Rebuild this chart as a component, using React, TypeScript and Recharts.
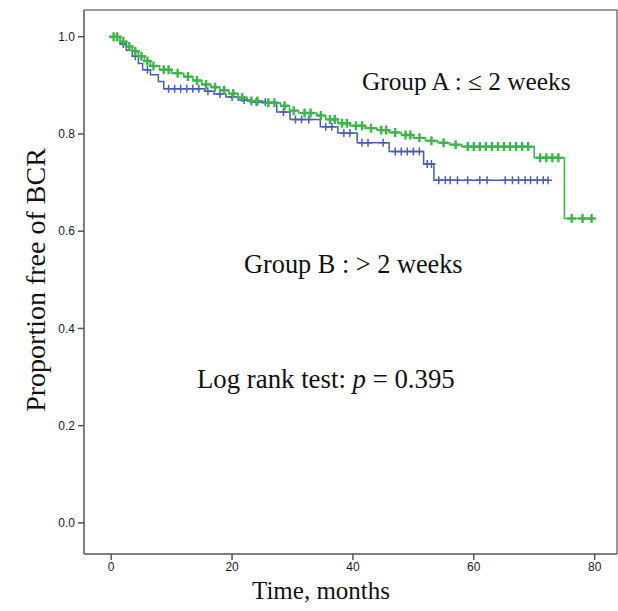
import React from 'react';
import {
  ComposedChart,
  Line,
  Scatter,
  XAxis,
  YAxis,
  ReferenceLine,
} from 'recharts';

// Kaplan-Meier steps: [months, proportion free of BCR]
const groupASteps: [number, number][] = [
  [0, 1.0], [1.5, 0.99], [2.5, 0.98], [3.5, 0.97], [4.5, 0.96], [5.5, 0.95],
  [6.5, 0.94], [8, 0.932], [10, 0.925], [12, 0.918], [13.5, 0.91], [15, 0.902],
  [16.5, 0.896], [18, 0.89], [19.5, 0.883], [21, 0.875], [22.5, 0.868], [25, 0.864],
  [28, 0.858], [29.5, 0.848], [31, 0.843], [34, 0.838], [35.5, 0.83], [37.5, 0.822],
  [39.5, 0.817], [42, 0.812], [44, 0.808], [46, 0.803], [48, 0.798], [50, 0.792],
  [52, 0.786], [54, 0.782], [56, 0.778], [58, 0.774], [70, 0.751], [75, 0.626],
  [79.5, 0.626],
];

const groupACensored: [number, number][] = [
  [0.4, 1.0], [1.0, 1.0], [2, 0.99], [3, 0.98], [4, 0.97], [5, 0.96], [6, 0.95],
  [7, 0.94], [8.7, 0.932], [9.5, 0.932], [11, 0.925], [12.7, 0.918], [14.2, 0.91],
  [15.7, 0.902], [17.2, 0.896], [18.7, 0.89], [20.2, 0.883], [21.7, 0.875],
  [23.2, 0.868], [24.2, 0.868], [26, 0.864], [27, 0.864], [28.7, 0.858], [30.2, 0.848],
  [32, 0.843], [33, 0.843], [34.7, 0.838], [36.2, 0.83], [37, 0.83], [38.2, 0.822],
  [39, 0.822], [40.5, 0.817], [41.5, 0.817], [43, 0.812], [44.7, 0.808], [45.5, 0.808],
  [47, 0.803], [48.7, 0.798], [49.5, 0.798], [51, 0.792], [53, 0.786], [55, 0.782],
  [57, 0.778], [59, 0.774], [60, 0.774], [61, 0.774], [62, 0.774], [63, 0.774],
  [64, 0.774], [65, 0.774], [66, 0.774], [67, 0.774], [68, 0.774], [69, 0.774],
  [71, 0.751], [72, 0.751], [73, 0.751], [74, 0.751], [76.2, 0.626], [78, 0.626],
  [79.5, 0.626],
];

const groupBSteps: [number, number][] = [
  [0, 1.0], [1.5, 0.985], [2.5, 0.972], [3.5, 0.96], [4.5, 0.945], [5.2, 0.932],
  [6.5, 0.922], [7.8, 0.908], [8.7, 0.893], [15.5, 0.888], [17, 0.882], [19, 0.876],
  [21, 0.87], [23, 0.865], [27.4, 0.845], [29.6, 0.83], [34.6, 0.815], [37.5, 0.802],
  [40.7, 0.782], [46, 0.764], [51.7, 0.738], [53.4, 0.705], [72.3, 0.705],
];

const groupBCensored: [number, number][] = [
  [2, 0.985], [4, 0.96], [6, 0.932], [9.5, 0.893], [10.5, 0.893], [11.5, 0.893],
  [12.5, 0.893], [13.5, 0.893], [14.5, 0.893], [16, 0.888], [18, 0.882], [20, 0.876],
  [22, 0.87], [24, 0.865], [25.5, 0.865], [28.5, 0.845], [30.5, 0.83], [31.5, 0.83],
  [32.7, 0.83], [35.5, 0.815], [36.5, 0.815], [38.5, 0.802], [39.5, 0.802], [41.5, 0.782],
  [42.5, 0.782], [45, 0.782], [47, 0.764], [48, 0.764], [49, 0.764], [50, 0.764],
  [51, 0.764], [52.3, 0.738], [53, 0.738], [54.2, 0.705], [55.3, 0.705], [56.1, 0.705],
  [57.3, 0.705], [59, 0.705], [61, 0.705], [62.2, 0.705], [65.2, 0.705], [66.4, 0.705],
  [67.4, 0.705], [68.5, 0.705], [69.4, 0.705], [70.5, 0.705], [71.5, 0.705], [72.3, 0.705],
];

const xTicks = [0, 20, 40, 60, 80];
const yTicks = [0, 0.2, 0.4, 0.6, 0.8, 1.0];

const GREEN = '#3db54a';
const BLUE = '#4b5cb8';

const toRows = (pts: [number, number][]) => pts.map(([t, s]) => ({ t, s }));

const makePlus = (color: string, size: number, width: number) => (props: any) => {
  const { cx, cy } = props;
  if (cx == null || cy == null) return null;
  return (
    <path
      d={`M${cx - size},${cy}H${cx + size}M${cx},${cy - size}V${cy + size}`}
      stroke={color}
      strokeWidth={width}
      fill="none"
    />
  );
};

const serif = '"Liberation Serif", "Times New Roman", serif';

const overlay = (left: number, top: number, size: number): React.CSSProperties => ({
  position: 'absolute',
  left,
  top,
  fontFamily: serif,
  fontSize: size,
  lineHeight: 1,
  whiteSpace: 'nowrap',
  color: '#111',
});

export default function App() {
  const tickStyle = { fontFamily: 'Liberation Sans, Arial, sans-serif', fontSize: 12, fill: '#1a1a1a' };
  return (
    <div style={{ position: 'absolute', left: 0, top: 0, width: 618, height: 611, background: '#fff' }}>
      <ComposedChart width={618} height={611} margin={{ top: 10, right: 1, left: 0, bottom: 0 }}>
        <XAxis
          type="number"
          dataKey="t"
          domain={[-4.5, 83.7]}
          ticks={xTicks}
          allowDataOverflow
          height={57}
          tickSize={6}
          tickMargin={2}
          stroke="#555"
          strokeWidth={1.5}
          tick={tickStyle}
        />
        <YAxis
          type="number"
          dataKey="s"
          domain={[-0.064, 1.055]}
          ticks={yTicks}
          allowDataOverflow
          width={84}
          tickSize={6}
          tickMargin={3}
          stroke="#555"
          strokeWidth={1.5}
          tick={tickStyle}
          tickFormatter={(v: number) => v.toFixed(1)}
        />
        <ReferenceLine y={1.055} stroke="#777" strokeWidth={1.5} />
        <ReferenceLine x={83.7} stroke="#777" strokeWidth={1.5} />
        <Line
          data={toRows(groupBSteps)}
          dataKey="s"
          type="stepAfter"
          stroke={BLUE}
          strokeWidth={1.5}
          dot={false}
          isAnimationActive={false}
        />
        <Scatter
          data={toRows(groupBCensored)}
          dataKey="s"
          shape={makePlus(BLUE, 4, 1.5)}
          isAnimationActive={false}
        />
        <Line
          data={toRows(groupASteps)}
          dataKey="s"
          type="stepAfter"
          stroke={GREEN}
          strokeWidth={1.6}
          dot={false}
          isAnimationActive={false}
        />
        <Scatter
          data={toRows(groupACensored)}
          dataKey="s"
          shape={makePlus(GREEN, 4.5, 2.4)}
          isAnimationActive={false}
        />
      </ComposedChart>
      <div style={overlay(362, 69, 25.3)}>Group A : ≤ 2 weeks</div>
      <div style={overlay(244, 252, 26.3)}>Group B : &gt; 2 weeks</div>
      <div style={overlay(197, 366, 26.8)}>
        Log rank test: <i>p</i> = 0.395
      </div>
      <div style={overlay(252, 578, 25)}>Time, months</div>
      <div
        style={{
          ...overlay(36, 280, 28),
          transform: 'translate(-50%, -50%) rotate(-90deg)',
        }}
      >
        Proportion free of BCR
      </div>
    </div>
  );
}
